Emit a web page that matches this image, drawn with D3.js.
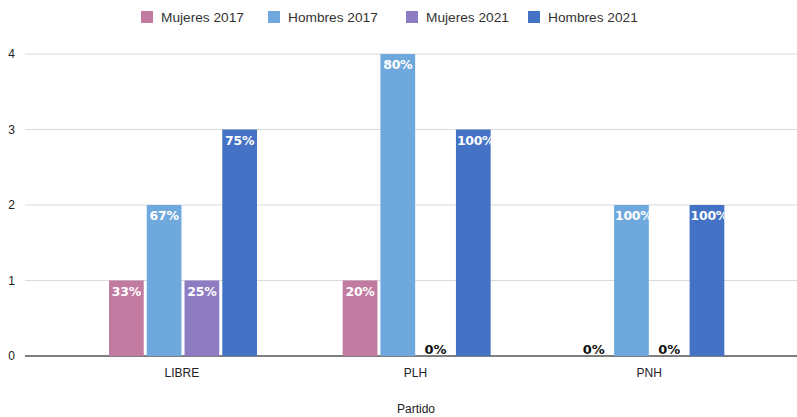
<!DOCTYPE html>
<html>
<head>
<meta charset="utf-8">
<script src="https://cdn.jsdelivr.net/npm/d3@7"></script>
<style>
  body { margin: 0; background: #fff; }
  svg { display: block; }
</style>
</head>
<body>
<svg id="chart" width="797" height="417"></svg>
<script>
// datos
const partidos = ["LIBRE", "PLH", "PNH"];
const series = ["Mujeres 2017", "Hombres 2017", "Mujeres 2021", "Hombres 2021"];
const mujeres2017 = [1, 1, 0];
const hombres2017 = [2, 4, 2];
const mujeres2021 = [1, 0, 0];
const hombres2021 = [3, 3, 2];
const pctM2017 = ["33%", "20%", "0%"];
const pctH2017 = ["67%", "80%", "100%"];
const pctM2021 = ["25%", "0%", "0%"];
const pctH2021 = ["75%", "100%", "100%"];
const yTicks = [0, 1, 2, 3, 4];
const colores = ["#c27ba0", "#6fa8dc", "#8e7cc3", "#4472c4"];

const valores = [mujeres2017, hombres2017, mujeres2021, hombres2021];
const etiquetas = [pctM2017, pctH2017, pctM2021, pctH2021];

let svg = d3.select("#chart");

let x0 = d3.scaleBand()
    .domain(partidos)
    .range([65, 766])
    .paddingInner(0)
    .paddingOuter(0);

let x1 = d3.scaleBand()
    .domain(series)
    .range([44, 192])
    .paddingInner(0.08);

let y = d3.scaleLinear()
    .domain([0, 4])
    .range([356, 54]);

// líneas de cuadrícula
svg.append("g")
    .selectAll("line")
    .data(yTicks)
    .enter()
    .append("line")
    .attr("x1", 25)
    .attr("x2", 797)
    .attr("y1", d => y(d))
    .attr("y2", d => y(d))
    .attr("stroke", d => d === 0 ? "#555" : "#d9d9d9")
    .attr("stroke-width", d => d === 0 ? 1.3 : 1);

// eje Y
let axisY = d3.axisLeft(y).tickValues(yTicks).tickSize(0).tickFormat(d3.format("d"));
let gy = svg.append("g")
    .attr("transform", "translate(18,0)")
    .call(axisY);
gy.select(".domain").remove();
gy.selectAll("text")
    .style("font-family", "Liberation Sans, Arial, sans-serif")
    .style("font-size", "12px")
    .attr("fill", "#222");

// eje X
let axisX = d3.axisBottom(x0).tickSize(0);
let gx = svg.append("g")
    .attr("transform", "translate(0,365)")
    .call(axisX);
gx.select(".domain").remove();
gx.selectAll("text")
    .style("font-family", "Liberation Sans, Arial, sans-serif")
    .style("font-size", "12px")
    .attr("fill", "#222");

svg.append("text")
    .attr("x", 416)
    .attr("y", 413)
    .attr("text-anchor", "middle")
    .style("font-family", "Liberation Sans, Arial, sans-serif")
    .style("font-size", "12px")
    .attr("fill", "#222")
    .text("Partido");

// barras
let datos = [];
partidos.forEach((p, i) => {
    series.forEach((s, j) => {
        datos.push({ id: i * 4 + j, partido: p, serie: s, valor: valores[j][i], etiqueta: etiquetas[j][i], color: colores[j] });
    });
});
let conValor = datos.filter(d => d.valor > 0);

let defs = svg.append("defs");
defs.selectAll("clipPath")
    .data(conValor)
    .enter()
    .append("clipPath")
    .attr("id", d => "clip" + d.id)
    .append("rect")
    .attr("x", d => x0(d.partido) + x1(d.serie))
    .attr("width", x1.bandwidth())
    .attr("y", d => y(d.valor))
    .attr("height", d => y(0) - y(d.valor));

svg.append("g")
    .selectAll("rect")
    .data(conValor)
    .enter()
    .append("rect")
    .attr("x", d => x0(d.partido) + x1(d.serie))
    .attr("width", x1.bandwidth())
    .attr("y", d => y(d.valor))
    .attr("height", d => y(0) - y(d.valor))
    .attr("fill", d => d.color);

// etiquetas dentro de las barras
svg.append("g")
    .selectAll("text")
    .data(conValor)
    .enter()
    .append("text")
    .attr("clip-path", d => `url(#clip${d.id})`)
    .attr("x", d => x0(d.partido) + x1(d.serie) + x1.bandwidth() / 2)
    .attr("y", d => y(d.valor) + 15)
    .attr("text-anchor", "middle")
    .style("font-family", "DejaVu Sans, sans-serif")
    .style("font-weight", "bold")
    .style("font-size", "12.5px")
    .style("letter-spacing", "-0.3px")
    .attr("fill", "#fff")
    .text(d => d.etiqueta)
    .each(function(d) {
        // si no cabe, se alinea a la izquierda y se recorta
        if (this.getComputedTextLength() > x1.bandwidth()) {
            d3.select(this)
                .attr("text-anchor", "start")
                .attr("x", x0(d.partido) + x1(d.serie) + 1);
        }
    });

// etiquetas de 0%
svg.append("g")
    .selectAll("text")
    .data(datos.filter(d => d.valor === 0))
    .enter()
    .append("text")
    .attr("x", d => x0(d.partido) + x1(d.serie) + x1.bandwidth() / 2)
    .attr("y", y(0) - 2)
    .attr("text-anchor", "middle")
    .style("font-family", "DejaVu Sans, sans-serif")
    .style("font-weight", "bold")
    .style("font-size", "13px")
    .attr("fill", "#111")
    .text(d => d.etiqueta);

// leyenda
const legendX = [141, 268, 406, 528];
let leg = svg.append("g")
    .selectAll("g")
    .data(series)
    .enter()
    .append("g")
    .attr("transform", (d, i) => `translate(${legendX[i]},11)`);
leg.append("rect")
    .attr("width", 12)
    .attr("height", 12)
    .attr("fill", (d, i) => colores[i]);
leg.append("text")
    .attr("x", 20)
    .attr("y", 11)
    .style("font-family", "Liberation Sans, Arial, sans-serif")
    .style("font-size", "13.7px")
    .attr("fill", "#333")
    .text(d => d);
</script>
</body>
</html>
